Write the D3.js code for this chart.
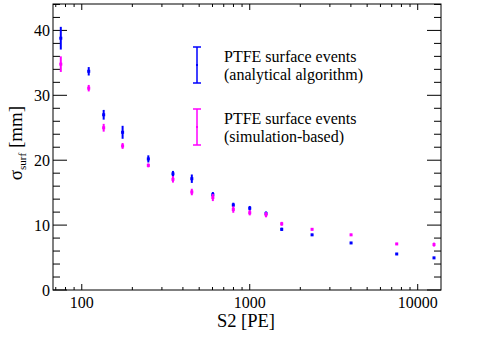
<!DOCTYPE html>
<html><head><meta charset="utf-8">
<script src="https://cdn.jsdelivr.net/npm/d3@7"></script>
<style>body{margin:0;background:#fff}svg{display:block}</style>
</head><body><svg id="c" width="485" height="350" font-family="'Liberation Serif','Times New Roman',Times,'DejaVu Serif',serif"></svg>
<script>
const s2 = [75,110,135,175,249,349,452,603,798,1000,1250,1550,2350,4010,7500,12500];
const analytical = [38.8,33.7,27.0,24.3,20.2,17.9,17.15,14.7,13.1,12.6,11.8,9.35,8.5,7.25,5.55,4.95];
const analyticalErr = [1.75,0.65,0.75,1.0,0.55,0.45,0.65,0.4,0.35,0.35,0.3,0.25,0.15,0.15,0.15,0.15];
const simulation = [34.8,31.1,25.0,22.2,19.2,17.05,15.1,14.25,12.4,11.9,11.6,10.2,9.35,8.5,7.1,7.0];
const simulationErr = [1.2,0.5,0.6,0.45,0.3,0.5,0.5,0.55,0.5,0.4,0.4,0.3,0.15,0.15,0.15,0.3];
const xTickLabels = [100,1000,10000];
const yTickLabels = [0,10,20,30,40];
const seriesNames = [["PTFE surface events","(analytical algorithm)"],["PTFE surface events","(simulation-based)"]];

const L=53,R=441,T=4,B=290;
const svg=d3.select("#c");
const x=d3.scaleLog().domain([67.4,13760]).range([L,R]);
const y=d3.scaleLinear().domain([0,44.07]).range([B,T]);

const xMinor=[];
[10,100,1000,10000].forEach(d=>{for(let k=1;k<10;k++){const v=d*k;if(v>=x.domain()[0]&&v<=x.domain()[1])xMinor.push(v);}});
const yMinor=d3.range(0,44.07,2);

const g=svg.append("g");
g.selectAll(".xb").data(xMinor).join("line").attr("class","xb")
 .attr("x1",d=>x(d)).attr("x2",d=>x(d)).attr("y1",B).attr("y2",d=>xTickLabels.includes(d)?B-6:B-3)
 .attr("stroke","#000").attr("stroke-width",1);
g.selectAll(".xt").data(xMinor).join("line").attr("class","xt")
 .attr("x1",d=>x(d)).attr("x2",d=>x(d)).attr("y1",T).attr("y2",d=>xTickLabels.includes(d)?T+6:T+3)
 .attr("stroke","#000").attr("stroke-width",1);
g.selectAll(".yl").data(yMinor).join("line").attr("class","yl")
 .attr("x1",L).attr("x2",d=>d%10===0?L+14:L+7).attr("y1",d=>y(d)).attr("y2",d=>y(d))
 .attr("stroke","#000").attr("stroke-width",1);
g.selectAll(".yr").data(yMinor).join("line").attr("class","yr")
 .attr("x1",R).attr("x2",d=>d%10===0?R-14:R-7).attr("y1",d=>y(d)).attr("y2",d=>y(d))
 .attr("stroke","#000").attr("stroke-width",1);
svg.append("rect").attr("x",L).attr("y",T).attr("width",R-L).attr("height",B-T)
 .attr("fill","none").attr("stroke","#000").attr("stroke-width",1);

svg.selectAll(".xl").data(xTickLabels).join("text").attr("class","xl")
 .attr("x",d=>x(d)).attr("y",308).attr("text-anchor","middle").attr("font-size",16).text(d=>d);
svg.selectAll(".ylab").data(yTickLabels).join("text").attr("class","ylab")
 .attr("x",50).attr("y",d=>y(d)+5.5).attr("text-anchor","end").attr("font-size",16).text(d=>d);

svg.append("text").attr("x",246).attr("y",327).attr("text-anchor","middle").attr("font-size",18.5).text("S2 [PE]");
const yt=svg.append("text").attr("transform","translate(22,143) rotate(-90)").attr("text-anchor","middle").attr("font-size",19);
yt.append("tspan").text("σ");
yt.append("tspan").attr("font-size",11).attr("dy",4).text("surf");
yt.append("tspan").attr("dy",-4).text(" [mm]");

function drawSeries(vals,errs,color){
  const gg=svg.append("g");
  gg.selectAll("line").data(s2).join("line")
   .attr("x1",d=>x(d)).attr("x2",d=>x(d))
   .attr("y1",(d,i)=>y(vals[i]+errs[i])).attr("y2",(d,i)=>y(vals[i]-errs[i]))
   .attr("stroke",color).attr("stroke-width",2);
  gg.selectAll("rect").data(s2).join("rect")
   .attr("x",d=>x(d)-1.5).attr("y",(d,i)=>y(vals[i])-1.5).attr("width",3).attr("height",3)
   .attr("fill",color);
}
drawSeries(analytical,analyticalErr,"#0000ff");
drawSeries(simulation,simulationErr,"#ff00ff");

const colors=["#0000ff","#ff00ff"];
const legY=[65,127];
seriesNames.forEach((nm,i)=>{
  const lg=svg.append("g");
  const cy=legY[i], h=18;
  lg.append("line").attr("x1",197).attr("x2",197).attr("y1",cy-h).attr("y2",cy+h).attr("stroke",colors[i]).attr("stroke-width",1.5);
  lg.append("line").attr("x1",193).attr("x2",201).attr("y1",cy-h).attr("y2",cy-h).attr("stroke",colors[i]).attr("stroke-width",1.5);
  lg.append("line").attr("x1",193).attr("x2",201).attr("y1",cy+h).attr("y2",cy+h).attr("stroke",colors[i]).attr("stroke-width",1.5);
  lg.append("rect").attr("x",196).attr("y",cy-1).attr("width",2).attr("height",2).attr("fill",colors[i]);
  lg.append("text").attr("x",224).attr("y",cy-3).attr("font-size",16).text(nm[0]);
  lg.append("text").attr("x",224).attr("y",cy+15).attr("font-size",16).text(nm[1]);
});
</script></body></html>
